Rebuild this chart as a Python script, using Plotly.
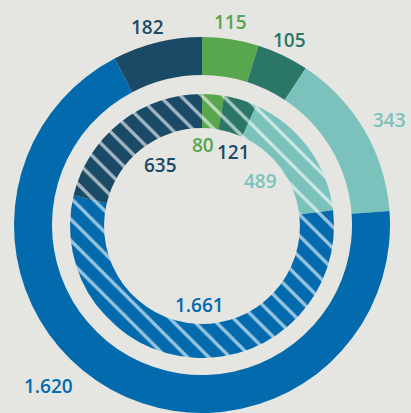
import plotly.graph_objects as go

categories = ["A", "B", "C", "D", "E"]
outer_values = [115, 105, 343, 1620, 182]
inner_values = [80, 121, 489, 1661, 635]
outer_labels = ["115", "105", "343", "1.620", "182"]
inner_labels = ["80", "121", "489", "1.661", "635"]
colors = ["#58a64d", "#2a7767", "#7ac2bb", "#036bad", "#1b4a66"]

W, H = 411, 413
BG = "#e5e5e1"

# geometry (pixels from top-left)
cx, cy = 202, 226
r_out, r_in = 188, 132

def dom(r):
    y0 = max(0.0, (H - cy - r) / H)
    return dict(
        x=[(cx - r) / W, (cx + r) / W],
        y=[y0, y0 + 2 * r / H],
    )

fig = go.Figure()
fig.add_trace(go.Pie(
    labels=categories, values=outer_values, sort=False, direction="clockwise",
    rotation=0, hole=0.798, domain=dom(r_out),
    marker=dict(colors=colors, line=dict(width=0)),
    textinfo="none", hoverinfo="label+value", showlegend=False,
))
fig.add_trace(go.Pie(
    labels=categories, values=inner_values, sort=False, direction="clockwise",
    rotation=0, hole=0.742, domain=dom(r_in),
    marker=dict(colors=colors, line=dict(width=0),
                pattern=dict(shape="\\", fgcolor="white", fgopacity=0.6,
                             fillmode="overlay", size=15, solidity=0.22)),
    textinfo="none", hoverinfo="label+value", showlegend=False,
))

# label positions (pixels) and colors
outer_pos = [(230, 22), (289, 40), (389, 120), (48, 386), (147, 27)]
inner_pos = [(203, 145), (233, 152), (260, 181), (199, 305), (160, 165)]
outer_txt_colors = ["#58a64d", "#2a7767", "#7ac2bb", "#036bad", "#1b4a66"]
inner_txt_colors = ["#58a64d", "#1b4a66", "#7ac2bb", "#036bad", "#1b4a66"]

ann = []
for lab, (px, py), col in zip(outer_labels + inner_labels,
                             outer_pos + inner_pos,
                             outer_txt_colors + inner_txt_colors):
    ann.append(dict(x=px / W, y=1 - py / H, xref="paper", yref="paper",
                    text=lab, showarrow=False, xanchor="center", yanchor="middle",
                    font=dict(family="Open Sans", size=19, color=col, weight=600)))

fig.update_layout(
    width=W, height=H, margin=dict(l=0, r=0, t=0, b=0),
    paper_bgcolor=BG, plot_bgcolor=BG, annotations=ann,
)
fig.write_html("out.html", config={"displayModeBar": False},
               post_script="document.body.style.margin='0';document.body.style.background='%s';" % BG)
